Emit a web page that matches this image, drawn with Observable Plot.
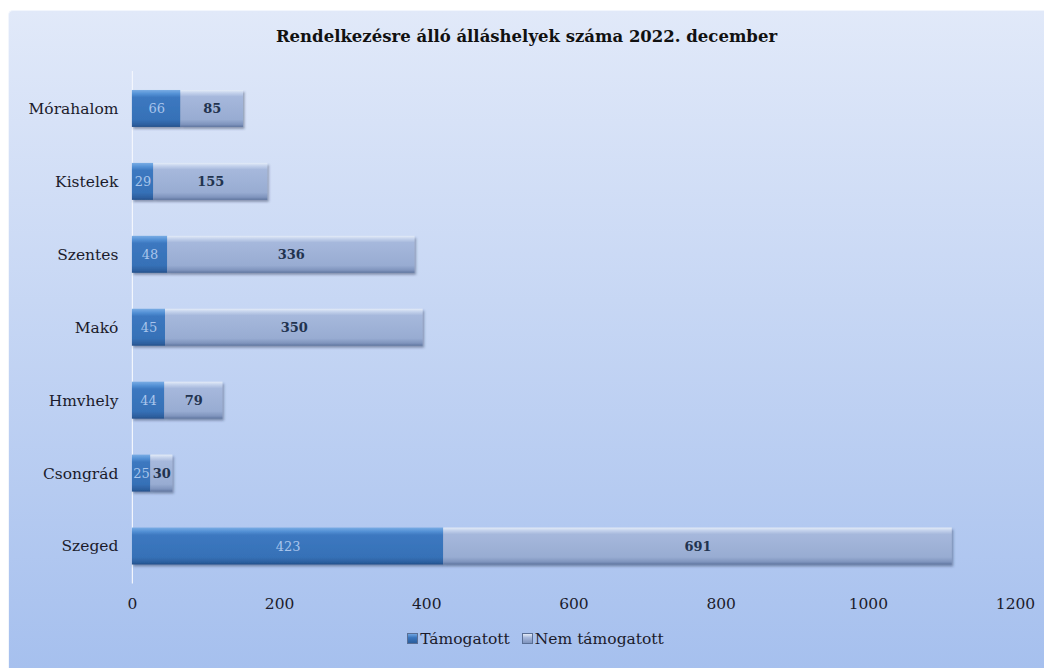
<!DOCTYPE html>
<html><head><meta charset="utf-8">
<script src="https://cdn.jsdelivr.net/npm/d3@7"></script>
<script src="https://cdn.jsdelivr.net/npm/@observablehq/plot@0.6"></script>
<style>
body{margin:0;background:#fff;width:1044px;height:668px;overflow:hidden;position:relative}
#wrap{position:absolute;left:8px;top:10px;width:1036px;height:658px;background:linear-gradient(#e1e9f9,#a6c0ee);border-top-left-radius:5px;border-left:1px solid #f2f6fd;border-top:1px solid #f2f6fd;box-sizing:border-box}
#title{height:50px;box-sizing:border-box;padding-top:16px;line-height:20px;text-align:center;font:bold 16.5px "DejaVu Serif";color:#111}
#chart svg{display:block}
#legend{box-sizing:border-box;padding-top:10px;padding-left:18px;line-height:20px;text-align:center;font:15.5px "DejaVu Serif";color:#1b1b2b}
.sw{display:inline-block;width:9px;height:9px;margin-right:2px;border:1px solid #5a6f95;vertical-align:0px}
</style></head>
<body>
<div id="wrap">
<div id="title">Rendelkezésre álló álláshelyek száma 2022. december</div>
<div id="chart"></div>
<div id="legend"></div>
</div>
<script>
const cities = ["Mórahalom","Kistelek","Szentes","Makó","Hmvhely","Csongrád","Szeged"];
const supported = [66,29,48,45,44,25,423];
const notSupported = [85,155,336,350,79,30,691];
const series = ["Támogatott","Nem támogatott"];
const xTicks = [0,200,400,600,800,1000,1200];

const data = cities.flatMap((c,i)=>[
  {city:c,type:series[0],value:supported[i]},
  {city:c,type:series[1],value:notSupported[i]}
]);

const chart = Plot.plot({
  width:1036, height:560,
  marginTop:10, marginBottom:37, marginLeft:123, marginRight:29,
  style:{background:"transparent", fontFamily:"DejaVu Serif", fontSize:"15.5px", color:"#1b1b2b"},
  x:{domain:[0,1200], ticks:xTicks, tickFormat:d=>String(d), tickSize:0, tickPadding:14, label:null},
  y:{domain:cities, paddingInner:0.5, paddingOuter:0.25, tickSize:0, tickPadding:14, label:null},
  color:{domain:series, range:["url(#gA)","url(#gB)"]},
  marks:[
    Plot.ruleX([0],{stroke:"#f3f6fd", strokeWidth:1.2}),
    Plot.barX(data, Plot.stackX({x:"value", y:"city", fill:"type"})),
    Plot.text(data, Plot.stackX({x:"value", y:"city", z:"type",
      text:d=>d.type===series[0]?d.value:"", fill:"#a9c5ec", fontSize:13})),
    Plot.text(data, Plot.stackX({x:"value", y:"city", z:"type",
      text:d=>d.type===series[1]?d.value:"", fill:"#22334f", fontSize:13, fontWeight:"bold"}))
  ]
});

const svg = d3.select(chart);
const defs = svg.insert("defs",":first-child");
function grad(id, stops){
  const g = defs.append("linearGradient").attr("id",id).attr("x1",0).attr("y1",0).attr("x2",0).attr("y2",1);
  stops.forEach(([o,c])=>g.append("stop").attr("offset",o).attr("stop-color",c));
}
grad("gA",[[0,"#79ace4"],[0.1,"#5592d6"],[0.2,"#3c78c0"],[0.8,"#3671b7"],[0.94,"#2d5f9f"],[1,"#24508a"]]);
grad("gB",[[0,"#e4ecf8"],[0.08,"#c4d2ec"],[0.18,"#a6b8dc"],[0.8,"#98acd2"],[0.93,"#7f94bd"],[1,"#5f759f"]]);
const f = defs.append("filter").attr("id","sh").attr("x","-5%").attr("y","-20%").attr("width","110%").attr("height","150%");
f.append("feDropShadow").attr("dx",1.5).attr("dy",2).attr("stdDeviation",1.2).attr("flood-color","#2c3c5c").attr("flood-opacity",0.45);
svg.select('g[aria-label="bar"]').attr("filter","url(#sh)");

document.getElementById("chart").appendChild(chart);

const legend = d3.select("#legend");
series.forEach((s,i)=>{
  const item = legend.append("span").style("margin","0 6px");
  item.append("span").attr("class","sw").style("background", i===0
    ? "linear-gradient(#6fa4e0,#3a76be 40%,#2b5d9c)"
    : "linear-gradient(#e4ecf8,#a6b8dc 40%,#7f94bd)");
  item.append("span").text(s);
});
</script>
</body></html>
